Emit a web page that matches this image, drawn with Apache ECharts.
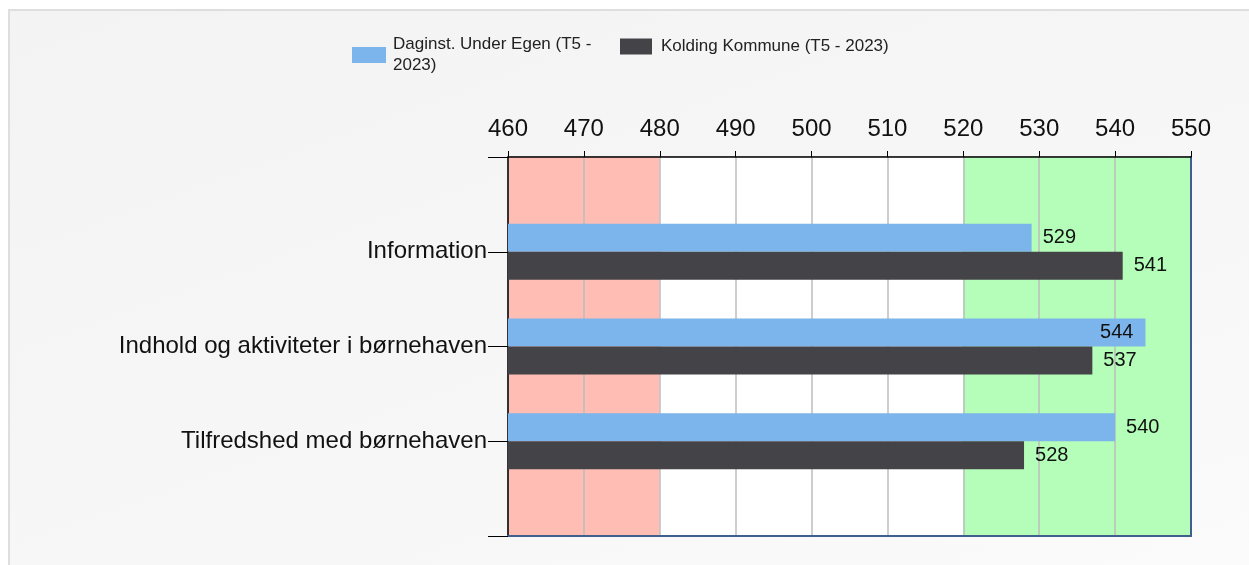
<!DOCTYPE html>
<html>
<head>
<meta charset="utf-8">
<script src="https://cdn.jsdelivr.net/npm/echarts@6/dist/echarts.min.js"></script>
<style>
  html, body { margin: 0; padding: 0; background: #fff; }
  #panel {
    position: absolute; left: 8px; top: 9px; width: 1260px; height: 580px;
    border: 2px solid #dedede;
    background: linear-gradient(160deg, #f3f3f3 0%, #f7f7f7 60%, #fbfbfb 100%);
  }
  #chart { position: absolute; left: 0; top: 0; width: 1249px; height: 565px; }
</style>
</head>
<body>
<div id="panel"></div>
<div id="chart"></div>
<script>
// chart data
const categories = ["Information", "Indhold og aktiviteter i børnehaven", "Tilfredshed med børnehaven"];
const seriesNames = ["Daginst. Under Egen (T5 - 2023)", "Kolding Kommune (T5 - 2023)"];
const egenValues = [529, 544, 540];
const koldingValues = [541, 537, 528];
const axisMin = 460;
const axisMax = 550;
const axisStep = 10;
const lowLimit = 480;   // red zone below this
const highLimit = 520;  // green zone from this

const FONT = "Liberation Sans, Arial, sans-serif";
const BLUE = "#7cb5ec";
const DARK = "#434348";
const PINK = "#ffbdb4";
const GREEN = "#b4feb9";

// one colour per 10-step interval, so splitArea paints the zones
const zoneColors = [];
for (let v = axisMin; v < axisMax; v += axisStep) {
  zoneColors.push(v < lowLimit ? PINK : v < highLimit ? "#ffffff" : GREEN);
}

// empty slot above and below, so categories sit at 1/4, 2/4, 3/4
const yCats = ["", ...categories, " "];

const chart = echarts.init(document.getElementById("chart"));

const barLabel = {
  show: true,
  position: "right",
  distance: 11,
  fontFamily: FONT,
  fontSize: 20,
  color: "#111",
};

function toItems(values) {
  return values.map((v, i) => {
    const item = { value: [v, categories[i]] };
    if (v > 542) item.label = { position: "insideRight", distance: 12 };
    return item;
  });
}

const legendText = { fontFamily: FONT, fontSize: 17, color: "#222" };

const option = {
  animation: false,
  textStyle: { fontFamily: FONT },
  legend: [
    {
      data: [seriesNames[0]],
      left: 352, top: 34, padding: 0,
      itemWidth: 34, itemHeight: 16, itemGap: 6,
      icon: "rect",
      textStyle: Object.assign({ width: 205, overflow: "break", lineHeight: 21, padding: [0, 0, 0, 2] }, legendText),
    },
    {
      data: [seriesNames[1]],
      left: 620, top: 38, padding: 0,
      itemWidth: 32, itemHeight: 16, itemGap: 6,
      icon: "rect",
      textStyle: Object.assign({ padding: [0, 0, 0, 4] }, legendText),
    },
  ],
  grid: {
    left: 508, right: 58, top: 157, bottom: 29,
    outerBoundsMode: "none",
  },
  xAxis: [
    {
      type: "value", position: "bottom",
      min: axisMin, max: axisMax, interval: axisStep,
      axisLine: { show: true, lineStyle: { color: "#3f5f8f", width: 2 } },
      axisTick: { show: false },
      axisLabel: { show: false },
      splitLine: { show: true, lineStyle: { color: "#bdbdbd", width: 1.5 } },
      splitArea: { show: true, areaStyle: { color: zoneColors } },
    },
    {
      type: "value", position: "top",
      min: axisMin, max: axisMax, interval: axisStep,
      z: 4,
      axisLine: { show: true, lineStyle: { color: "#000", width: 1.5 } },
      axisTick: { show: true, length: 6, lineStyle: { color: "#000" } },
      axisLabel: { fontFamily: FONT, fontSize: 24, color: "#111", margin: 16 },
      splitLine: { show: false },
    },
  ],
  yAxis: [
    {
      type: "category", position: "left", inverse: true,
      data: yCats, boundaryGap: false,
      axisLine: { show: true, lineStyle: { color: "#000", width: 1.5 } },
      axisTick: { show: true, length: 20, interval: 0, lineStyle: { color: "#000" } },
      axisLabel: { interval: 0, fontFamily: FONT, fontSize: 24, color: "#111", margin: 21, padding: [3, 0, 0, 0] },
      splitLine: { show: true, interval: 0, lineStyle: { color: "#bdbdbd", width: 1.5 } },
    },
    {
      type: "category", position: "right", inverse: true,
      data: yCats, boundaryGap: false,
      z: 4,
      axisLine: { show: true, lineStyle: { color: "#3f5f8f", width: 2 } },
      axisTick: { show: false },
      axisLabel: { show: false },
      splitLine: { show: false },
    },
  ],
  series: [
    {
      name: seriesNames[0],
      type: "bar",
      xAxisIndex: 0, yAxisIndex: 0,
      barWidth: 28, barGap: "0%",
      itemStyle: { color: BLUE },
      label: barLabel,
      data: toItems(egenValues),
    },
    {
      name: seriesNames[1],
      type: "bar",
      xAxisIndex: 0, yAxisIndex: 0,
      barWidth: 28, barGap: "0%",
      itemStyle: { color: DARK },
      label: barLabel,
      data: toItems(koldingValues),
    },
  ],
};

chart.setOption(option);
</script>
</body>
</html>
